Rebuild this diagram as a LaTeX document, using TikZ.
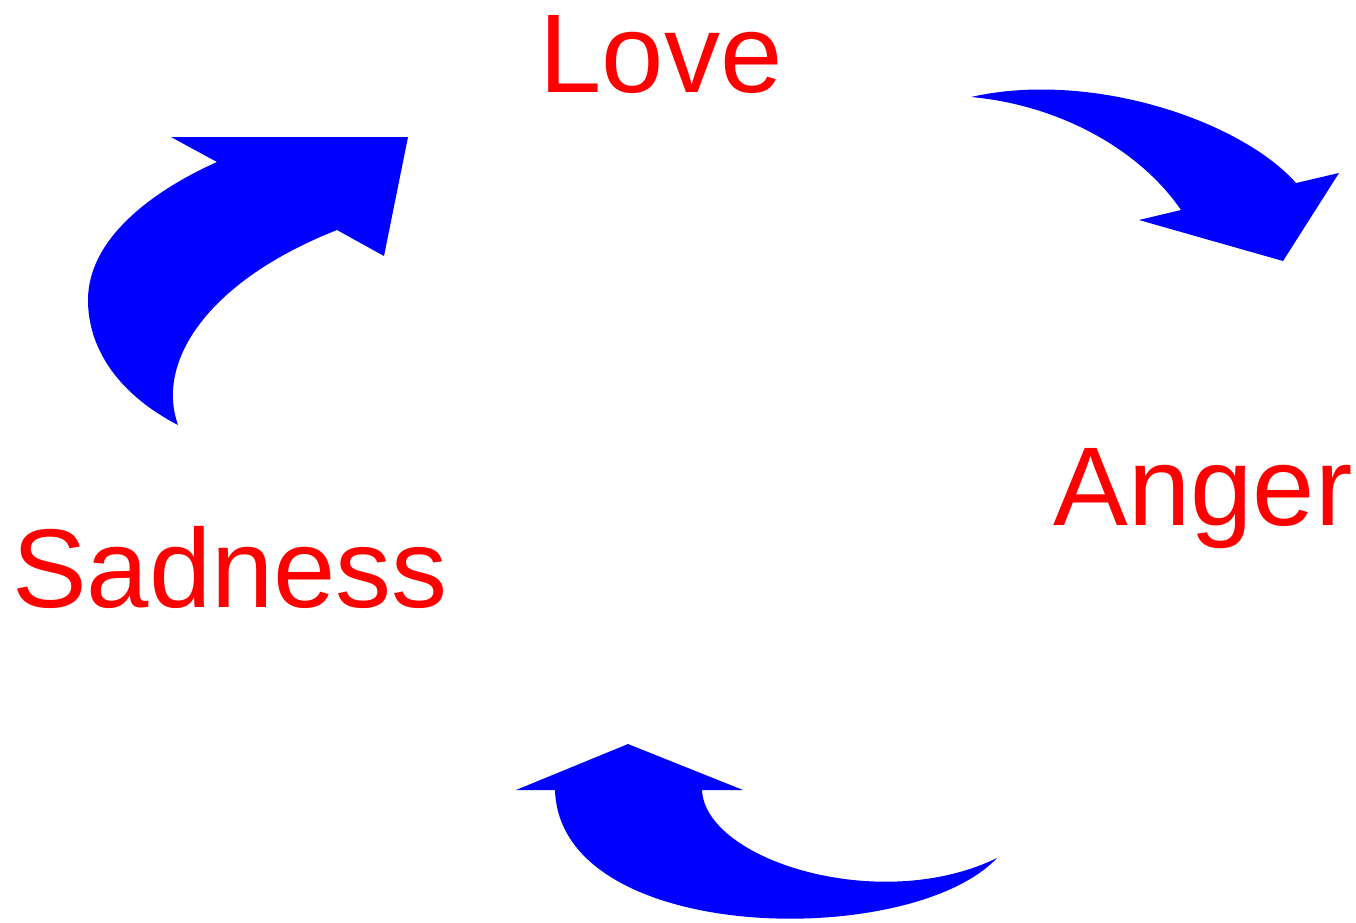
\documentclass[tikz,border=0pt]{standalone}
\usepackage{fontspec}
\setmainfont{Liberation Sans}
\usepackage{xcolor}
\usetikzlibrary{positioning}

\begin{document}
\begin{tikzpicture}[
  x=1pt, y=-1pt,
  feeling/.style={text=red, inner sep=0pt, anchor=base, font=\fontsize{112}{112}\selectfont},
  turn/.style={fill=blue, draw=none},
]
  \useasboundingbox (0,0) rectangle (1356,922);
  \node[feeling] (love) at (661,92) {Love};
  \node[feeling] (anger) at (1203,525) {Anger};
  \node[feeling] (sadness) at (230,607) {Sadness};
  \fill[turn] (171,137) -- (408,137) -- (384,256) -- (337,230)
    .. controls (210,280) and (155,360) .. (178,425)
    .. controls (120,395) and (88,350) .. (88,300)
    .. controls (88,240) and (150,192) .. (217,162) -- cycle;
  \fill[turn] (971,97) .. controls (1090,70) and (1240,120) .. (1296,183)
    -- (1339,173) -- (1283,261) -- (1139,220) -- (1181,210)
    .. controls (1140,150) and (1060,105) .. (971,97) -- cycle;
  \fill[turn] (516,790) -- (628,744) -- (743,790) -- (702,790)
    .. controls (705,860) and (880,915) .. (997,858)
    .. controls (910,950) and (560,945) .. (555,790) -- cycle;
\end{tikzpicture}
\end{document}
